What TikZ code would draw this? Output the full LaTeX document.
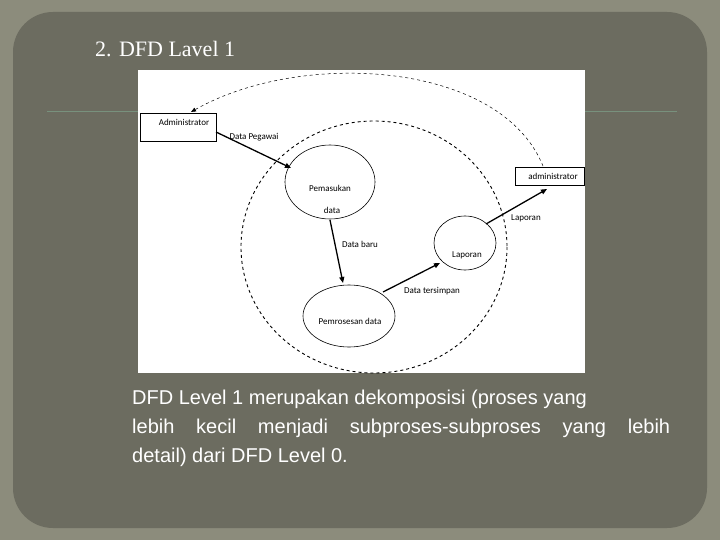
\documentclass[tikz,border=0pt]{standalone}
\usepackage{fontspec}
\setmainfont{Liberation Serif}
\newfontfamily\bodyfont{Liberation Sans}
\newfontfamily\dfont{Carlito}
\usetikzlibrary{arrows.meta,shapes.geometric}
\definecolor{outerbg}{RGB}{140,140,124}
\definecolor{innerbg}{RGB}{108,108,96}
\definecolor{rulecol}{RGB}{120,145,125}
\begin{document}
\begin{tikzpicture}[x=1pt,y=-1pt,
  lbl/.style={font=\dfont\fontsize{9}{10}\selectfont,inner sep=0pt},
  ent/.style={draw,line width=0.6pt,inner sep=0pt},
  flow/.style={line width=1.3pt,-{Triangle[length=6pt,width=5pt]}},
  body/.style={font=\bodyfont\fontsize{20}{24}\selectfont,text=white,anchor=base west,inner sep=0pt}]
\useasboundingbox (0,0) rectangle (720,540);
\fill[outerbg] (0,0) rectangle (720,540);
\fill[innerbg,rounded corners=40pt] (13,12) rectangle (707,528);
\draw[rulecol,line width=1pt] (47,112) -- (677,112);
\fill[white] (138,70) rectangle (585,373);
\node[font=\fontsize{22}{26}\selectfont,text=white,anchor=base west,inner sep=0pt] (title) at (95,57) {2. DFD Lavel 1};
% diagram
\draw[dashed,line width=0.9pt] (374,247) ellipse [x radius=133,y radius=126];
\node[ent,minimum width=76pt,minimum height=28pt] (adm) at (178,127) {};
\node[lbl] at (184,122) {Administrator};
\node[ent,minimum width=69pt,minimum height=18pt] (adm2) at (549.5,176) {};
\node[lbl] at (553,176) {administrator};
\node[draw,ellipse,line width=0.6pt,minimum width=90pt,minimum height=74pt] (pem) at (330,182) {};
\node[lbl] at (330,188) {Pemasukan};
\node[lbl] at (332,210) {data};
\node[draw,ellipse,line width=0.6pt,minimum width=62pt,minimum height=54pt] (lap) at (465,243) {};
\node[lbl] at (467,255) {Laporan};
\node[draw,ellipse,line width=0.6pt,minimum width=92pt,minimum height=62pt] (pro) at (349,316) {};
\node[lbl] at (350,321) {Pemrosesan data};
\coordinate (a1) at (216,132);
\coordinate (a2) at (291,168);
\draw[flow] (a1) -- (a2);
\node[lbl] at (254,137) {Data Pegawai};
\coordinate (b1) at (330,220);
\coordinate (b2) at (343,283);
\draw[flow] (b1) -- (b2);
\node[lbl] at (360,244) {Data baru};
\coordinate (c1) at (383,292);
\coordinate (c2) at (440,263);
\draw[flow] (c1) -- (c2);
\node[lbl] at (432,291) {Data tersimpan};
\coordinate (d1) at (486,224);
\coordinate (d2) at (547,189);
\draw[flow] (d1) -- (d2);
\node[lbl] at (526,218) {Laporan};
\coordinate (e1) at (543,166);
\coordinate (e2) at (191,112);
\draw[dashed,line width=0.5pt,-{Triangle[length=5pt,width=4pt]}] (e1) .. controls (500,60) and (300,50) .. (e2);
% body text
\node[body] (t1) at (132,404) {DFD Level 1 merupakan dekomposisi (proses yang};
\node[body] (t2) at (132,433) {\makebox[538pt][s]{lebih kecil menjadi subproses-subproses yang lebih}};
\node[body] (t3) at (132,462) {detail) dari DFD Level 0.};
\end{tikzpicture}
\end{document}
